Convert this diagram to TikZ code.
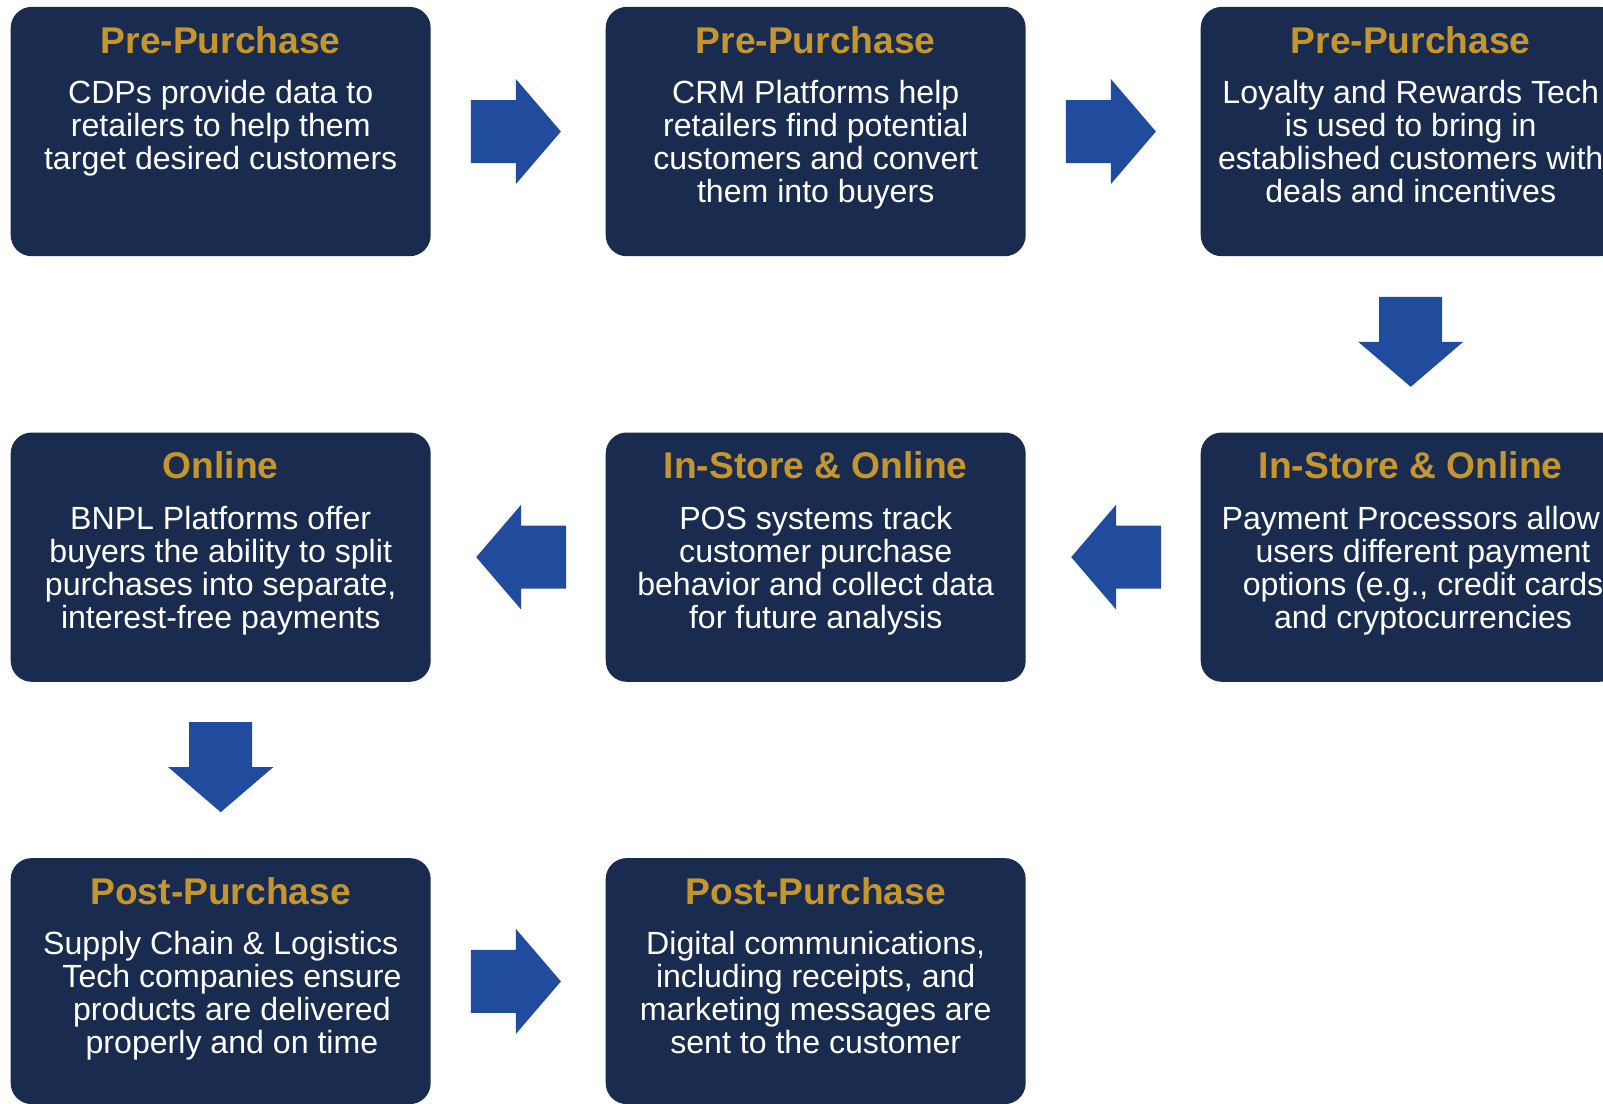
\documentclass[tikz,border=0pt]{standalone}
\usepackage{fontspec}
\setmainfont{Liberation Sans}
\usetikzlibrary{calc}
\definecolor{navy}{HTML}{1A2B50}
\definecolor{gold}{HTML}{C4962C}
\definecolor{arrowblue}{HTML}{214C9E}
\begin{document}
\begin{tikzpicture}[x=1pt,y=-1pt,
  card/.style={draw=none, fill=navy, rounded corners=21pt, minimum width=420pt,
    minimum height=249.3pt, inner sep=0pt, anchor=north west},
  ttl/.style={anchor=base, inner sep=0pt, text=gold, font=\fontsize{37.2}{40}\selectfont\bfseries},
  body/.style={anchor=north, inner sep=0pt, text=white, align=center,
    font=\fontsize{32.1}{33}\selectfont},
  blockarrow/.pic={\fill[arrowblue] (-45,-31.5) -- (0,-31.5) -- (0,-52.5) -- (45,0)
    -- (0,52.5) -- (0,31.5) -- (-45,31.5) -- cycle;}]
\useasboundingbox (0,0) rectangle (1603,1103);
\clip (0,0) rectangle (1603,1103);
\lineskiplimit=-20pt
% boxes
\node[card] (c1) at (10.5,6.7) {};
\node[card] (c2) at (605.5,6.7) {};
\node[card] (c3) at (1200.5,6.7) {};
\node[card] (c4) at (1200.5,432.3) {};
\node[card] (c5) at (605.5,432.3) {};
\node[card] (c6) at (10.5,432.3) {};
\node[card, minimum height=246pt] (c7) at (10.5,857.9) {};
\node[card, minimum height=246pt] (c8) at (605.5,857.9) {};
% titles
\node[ttl] (t1) at ([yshift=-46.6pt]c1.north) {Pre-Purchase};
\node[ttl] (t2) at ([yshift=-46.6pt]c2.north) {Pre-Purchase};
\node[ttl] (t3) at ([yshift=-46.6pt]c3.north) {Pre-Purchase};
\node[ttl] (t4) at ([yshift=-46.6pt]c4.north) {In-Store \& Online};
\node[ttl] (t5) at ([yshift=-46.6pt]c5.north) {In-Store \& Online};
\node[ttl] (t6) at ([yshift=-46.6pt]c6.north) {Online};
\node[ttl] (t7) at ([yshift=-46.6pt]c7.north) {Post-Purchase};
\node[ttl] (t8) at ([yshift=-46.6pt]c8.north) {Post-Purchase};
% bodies
\node[body] (d1) at ([yshift=-71.8pt]c1.north) {\rule{0pt}{25pt}CDPs provide data to\\retailers to help them\\target desired customers};
\node[body] (d2) at ([yshift=-71.8pt]c2.north) {\rule{0pt}{25pt}CRM Platforms help\\retailers find potential\\customers and convert\\them into buyers};
\node[body] (d3) at ([yshift=-71.8pt]c3.north) {\rule{0pt}{25pt}Loyalty and Rewards Tech\\is used to bring in\\established customers with\\deals and incentives};
\node[body] (d4) at ([yshift=-71.8pt]c4.north) {\rule{0pt}{25pt}Payment Processors allow\\\hspace*{24.6pt}users different payment\\\hspace*{24.6pt}options (e.g., credit cards\\\hspace*{24.6pt}and cryptocurrencies};
\node[body] (d5) at ([yshift=-71.8pt]c5.north) {\rule{0pt}{25pt}POS systems track\\customer purchase\\behavior and collect data\\for future analysis};
\node[body] (d6) at ([yshift=-71.8pt]c6.north) {\rule{0pt}{25pt}BNPL Platforms offer\\buyers the ability to split\\purchases into separate,\\interest-free payments};
\node[body] (d7) at ([yshift=-71.8pt]c7.north) {\rule{0pt}{25pt}Supply Chain \& Logistics\\\hspace*{22.5pt}Tech companies ensure\\\hspace*{22.5pt}products are delivered\\\hspace*{22.5pt}properly and on time};
\node[body] (d8) at ([yshift=-71.8pt]c8.north) {\rule{0pt}{25pt}Digital communications,\\including receipts, and\\marketing messages are\\sent to the customer};
% arrows
\pic at ($(c1.east)!0.5!(c2.west)+(-2.3,0)$) {blockarrow};
\pic at ($(c2.east)!0.5!(c3.west)+(-2.3,0)$) {blockarrow};
\pic[rotate=-90] at ($(c3.south)!0.5!(c4.north)+(0,-2.5)$) {blockarrow};
\pic[rotate=180] at ($(c4.west)!0.5!(c5.east)+(3,0)$) {blockarrow};
\pic[rotate=180] at ($(c5.west)!0.5!(c6.east)+(3,0)$) {blockarrow};
\pic[rotate=-90] at ($(c6.south)!0.5!(c7.north)+(0,-2.8)$) {blockarrow};
\pic at ($(c7.north east)!0.5!(c8.north west)+(-2.3,123.5)$) {blockarrow};
\end{tikzpicture}
\end{document}
